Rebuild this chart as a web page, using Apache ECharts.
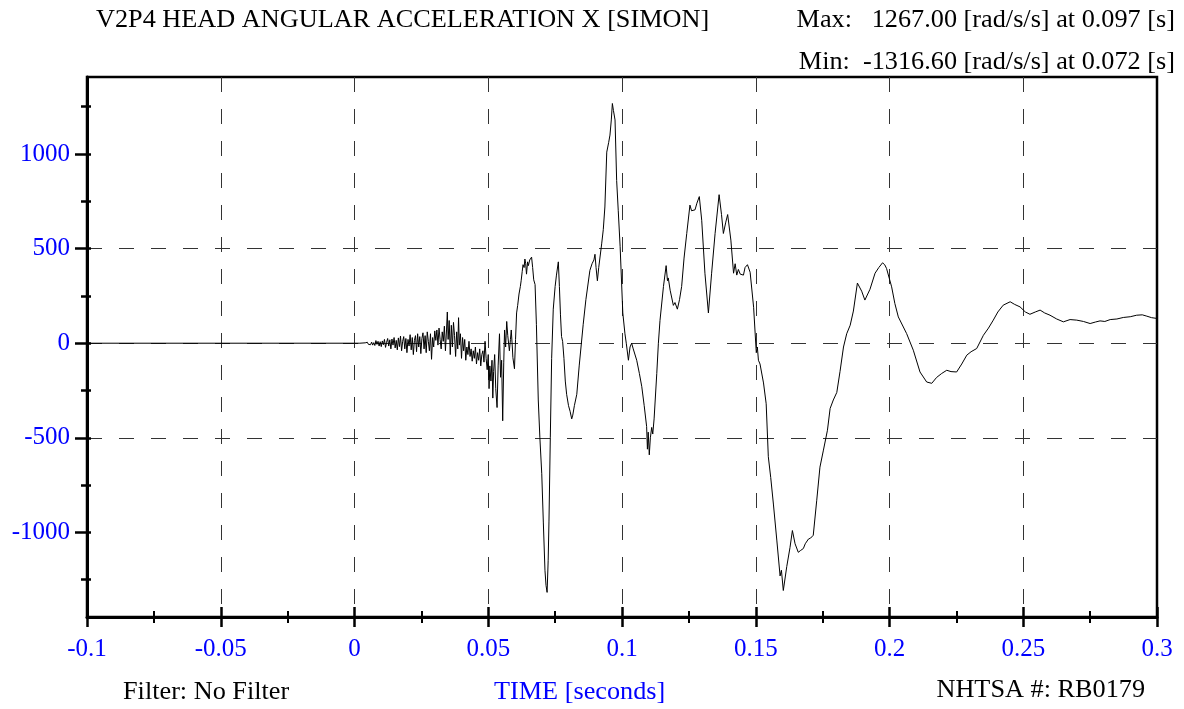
<!DOCTYPE html>
<html>
<head>
<meta charset="utf-8">
<script src="https://cdn.jsdelivr.net/npm/echarts@6/dist/echarts.min.js"></script>
<style>
html,body{margin:0;padding:0;background:#fff;}
#chart{width:1184px;height:709px;}
</style>
</head>
<body>
<div id="chart"></div>
<script>
// ---- data (time in ms, value in rad/s/s) ----
const timeMs = [
-100, 0, 2, 4, 4.4, 4.8, 5.2, 5.6, 6.0, 6.4, 6.8, 7.2, 7.6, 8.0, 8.4, 8.8, 9.2, 9.6, 10.0, 10.4, 10.8,
11.2, 11.6, 12.0, 12.4, 12.8, 13.2, 13.6, 14.0, 14.4, 14.8, 15.2, 15.6, 16.0, 16.4, 16.8, 17.2, 17.6,
18.0, 18.4, 18.8, 19.2, 19.6, 20.0, 20.4, 20.8, 21.2, 21.6, 22.0, 22.4, 22.8, 23.2, 23.6, 24.0, 24.4,
24.8, 25.2, 25.6, 26.0, 26.4, 26.8, 27.2, 27.6, 28.0, 28.4, 28.8, 29.2, 29.6, 30.0, 30.4, 30.8, 31.2,
31.6, 32.0, 32.4, 32.8, 33.2, 33.6, 34.0, 34.4, 34.7, 35.0, 35.4, 35.8, 36.2, 36.6, 37.0, 37.4, 37.8,
38.2, 38.6, 38.9, 39.2, 39.6, 40.0, 40.4, 40.8, 41.2, 41.6, 42.0, 42.4, 42.8, 43.2, 43.6, 44.0, 44.4,
44.8, 45.2, 45.6, 46.0, 46.4, 46.8, 47.2, 47.6, 48.0, 48.4, 48.8, 49.2, 49.6, 50.0, 50.3, 50.6, 51.0,
51.4, 51.7, 52.0, 52.4, 52.8, 53.3, 53.7, 54.2, 54.6, 55.0, 55.4, 55.8, 56.1, 56.5, 56.9, 57.3, 57.9,
58.3, 58.6, 59.0, 59.2, 59.8, 60.2, 60.6, 61.0, 61.5, 62.0, 62.3, 62.7, 63.0, 63.4, 63.7, 64.0, 64.3,
64.7, 65.0, 65.5, 66.0, 66.2, 66.6, 67.0, 67.5, 68.0, 68.7, 69.3, 70.0, 70.6, 71.2, 71.6, 72.0, 72.4,
72.7, 73.2, 73.7, 74.3, 75.0, 75.5, 76.2, 76.6, 77.0, 77.4, 77.8, 78.3, 78.8, 79.3, 80.0, 80.6, 81.2,
81.6, 82.2, 83.1, 84.0, 85.5, 86.5, 88.0, 88.8, 89.5, 89.9, 90.3, 90.8, 91.3, 92.4, 93.0, 93.6, 94.3,
95.0, 95.5, 96.0, 96.4, 96.8, 97.4, 98.0, 98.6, 99.3, 100.3, 101.1, 101.6, 102.4, 103.0, 103.6, 104.2,
105.5, 106.5, 107.4, 108.3, 109.2, 109.5, 109.8, 110.2, 110.6, 111.1, 111.5, 112.0, 113.0, 113.6,
114.2, 115.5, 116.5, 117.0, 117.3, 118.0, 119.2, 119.8, 120.7, 121.5, 122.3, 123.2, 124.2, 125.4,
126.0, 126.6, 127.3, 128.0, 128.9, 129.8, 131.0, 132.3, 133.5, 134.8, 136.3, 137.2, 137.9, 138.8,
139.5, 140.7, 141.7, 142.3, 142.9, 143.5, 144.2, 145.4, 146.0, 146.9, 147.9, 149.2, 150.2, 150.6,
151.0, 151.6, 152.9, 153.9, 154.7, 155.6, 156.6, 157.9, 159.1, 159.6, 160.3, 161.6, 162.8, 163.7,
164.2, 164.7, 165.9, 166.8, 167.8, 168.5, 169.7, 170.5, 171.5, 172.8, 174.0, 175.3, 176.8, 177.8,
179.0, 180.3, 181.5, 182.8, 184.0, 185.3, 186.5, 188.0, 189.6, 190.8, 192.7, 194.6, 196.0, 197.4,
198.2, 198.9, 200.8, 202.0, 203.3, 206.4, 208.9, 211.4, 213.9, 215.8, 217.6, 219.5, 221.4, 223.0,
225.1, 227.0, 228.9, 230.5, 232.6, 235.1, 237.0, 238.8, 240.5, 242.5, 245.1, 246.8, 248.8, 250.8,
252.5, 254.5, 256.3, 258.0, 260.0, 262.5, 265.0, 267.5, 270.0, 272.5, 275.0, 277.0, 278.7, 280.5,
282.5, 285.0, 287.4, 290.0, 292.4, 294.5, 296.2, 298.0, 300.0
];
const accel = [
0, 0, 0, 2, -3, 5, -6, 4, -8, 6, -10, 3, -12, 14, -6, 10, -15, 8, -18, 12, -8,
20, -22, 5, 25, -15, 18, -30, 22, -10, 30, -25, 15, -35, 28, -18, 38, -40,
10, 35, -30, 25, -50, 20, -15, 45, -35, 30, -60, 15, 40, -45, 50, -20, 35,
-55, 25, 55, -30, 40, -50, 60, 10, -40, 50, -85, 30, -20, 65, 15, 70, -10,
80, 20, -30, 60, 10, 90, -40, 70, 165, 20, 120, -60, 95, -20, 110, 40, -70,
60, -30, 135, -10, 50, -80, 30, -40, 20, -90, -20, -60, 10, -70, -30, -95, -40,
-80, -20, -110, -50, -90, -30, -120, -60, -40, -100, 10, -80, -140, -60, -240, -120, -200,
-90, -290, -150, -60, -240, -340, -120, 50, -180, -90, -410, -100, 70, -20, 115, 40, -40,
20, 70, -20, -75, -135, 20, 160, 200, 260, 300, 330, 380, 415, 400, 445, 420, 365,
430, 410, 440, 430, 455, 400, 335, 310, 100, -300, -500, -690, -950, -1200, -1280, -1317, -1150,
-940, -500, -80, 180, 300, 360, 430, 300, 150, 35, 10, -80, -200, -270, -330, -360, -400,
-380, -330, -270, -120, 100, 230, 385, 420, 440, 470, 400, 330, 400, 525, 600, 720, 1010,
1060, 1100, 1180, 1267, 1230, 1180, 860, 700, 510, 160, 50, 0, -90, -20, 0, -30,
-90, -160, -230, -330, -440, -560, -470, -590, -500, -445, -480, -400, -160, 0,
120, 300, 410, 330, 345, 280, 200, 215, 180, 230, 300, 450, 580, 730,
700, 710, 705, 740, 775, 650, 370, 160, 370, 580, 785, 680, 580, 640,
680, 545, 370, 420, 360, 390, 365, 360, 400, 415, 375, 190, -50, -20,
-90, -110, -210, -320, -600, -710, -850, -1045, -1230, -1200, -1307, -1180, -1080, -990,
-1000, -1060, -1105, -1095, -1085, -1060, -1035, -1030, -1015, -830, -655, -565, -460, -345,
-300, -260, -150, -20, 50, 95, 170, 318, 275, 228, 285, 370, 400, 425,
415, 395, 298, 210, 139, 51, -37, -152, -205, -212, -181, -160, -143, -150,
-152, -110, -63, -45, -28, 42, 80, 122, 165, 201, 219, 205, 192, 165,
153, 165, 175, 160, 148, 128, 113, 125, 122, 115, 104, 112, 118, 115,
125, 128, 136, 140, 148, 150, 143, 135, 131
];
const yMajorTicks = [-1000, -500, 0, 500, 1000];
const yMinorTicks = [-1250, -750, -250, 250, 750, 1250];
const titleText = 'V2P4 HEAD ANGULAR ACCELERATION X [SIMON]';
const maxText = 'Max:   1267.00 [rad/s/s] at 0.097 [s]';
const minText = 'Min:  -1316.60 [rad/s/s] at 0.072 [s]';
const filterText = 'Filter: No Filter';
const xAxisName = 'TIME [seconds]';
const idText = 'NHTSA #: RB0179';

const seriesData = timeMs.map((t, i) => [t / 1000, accel[i]]);

const FONT = '"Liberation Serif", "Times New Roman", serif';
const BLUE = '#0000ff';
const Y_MIN = -1447, Y_MAX = 1407;
const dashStyle = { color: '#333', width: 1, type: [15, 17] };
const SX = 1.05;

function txt(x, y, text, align, color) {
  return { type: 'text', x: x, y: y, scaleX: SX, scaleY: 1, silent: true,
    style: { text: text, font: '25px ' + FONT, fill: color || '#000', align: align, verticalAlign: 'middle' } };
}

const chart = echarts.init(document.getElementById('chart'), null, { renderer: 'canvas' });
chart.setOption({
  animation: false,
  backgroundColor: '#fff',
  grid: { left: 87, right: 27, top: 77, bottom: 92, show: true, borderColor: '#000', borderWidth: 2.5, backgroundColor: 'transparent' },
  xAxis: [
    {
      type: 'value', min: -0.1, max: 0.3, interval: 0.05,
      axisLine: { show: true, onZero: false, lineStyle: { color: '#000', width: 3 } },
      axisTick: { show: true, length: 10, lineStyle: { color: '#000', width: 2.5 } },
      minorTick: { show: true, splitNumber: 2, length: 6, lineStyle: { color: '#000', width: 2 } },
      axisLabel: { color: BLUE, fontFamily: FONT, fontSize: 25, margin: 20,
        formatter: v => String(Math.round(v * 1000) / 1000) },
      splitLine: { show: true, showMinLine: false, showMaxLine: false, lineStyle: dashStyle }
    },
    {
      type: 'value', min: -0.1, max: 0.3, interval: 0.05, position: 'bottom',
      axisLine: { show: false, onZero: false },
      axisTick: { show: true, inside: true, length: 10, lineStyle: { color: '#000', width: 2.5 } },
      minorTick: { show: true, splitNumber: 2, length: 6, lineStyle: { color: '#000', width: 2 } },
      axisLabel: { show: false }, splitLine: { show: false }
    }
  ],
  yAxis: [
    {
      type: 'value', min: Y_MIN, max: Y_MAX,
      axisLine: { show: true, onZero: false, lineStyle: { color: '#000', width: 3 } },
      axisTick: { show: true, length: 12, customValues: yMajorTicks, lineStyle: { color: '#000', width: 2.5 } },
      axisLabel: { color: BLUE, fontFamily: FONT, fontSize: 25, margin: 17, customValues: yMajorTicks,
        formatter: v => String(v) },
      splitLine: { show: true, showMinLine: false, showMaxLine: false, lineStyle: dashStyle }
    },
    {
      type: 'value', min: Y_MIN, max: Y_MAX, position: 'left',
      axisLine: { show: false, onZero: false },
      axisTick: { show: true, length: 6, customValues: yMinorTicks, lineStyle: { color: '#000', width: 2.5 } },
      axisLabel: { show: false }, splitLine: { show: false }
    },
    {
      type: 'value', min: Y_MIN, max: Y_MAX, position: 'left',
      axisLine: { show: false, onZero: false },
      axisTick: { show: true, inside: true, length: 4, customValues: yMajorTicks.concat(yMinorTicks), lineStyle: { color: '#000', width: 2.5 } },
      axisLabel: { show: false }, splitLine: { show: false }
    }
  ],
  series: [{
    type: 'line', data: seriesData, xAxisIndex: 0, yAxisIndex: 0,
    showSymbol: false, symbol: 'none', sampling: null,
    lineStyle: { color: '#000', width: 1 }, z: 5
  }],
  graphic: [
    txt(96, 20, titleText, 'left'),
    txt(1175, 20, maxText, 'right'),
    txt(1175, 62, minText, 'right'),
    txt(123, 692, filterText, 'left'),
    txt(494, 692, xAxisName, 'left', BLUE),
    txt(1145, 690, idText, 'right')
  ]
});
</script>
</body>
</html>
